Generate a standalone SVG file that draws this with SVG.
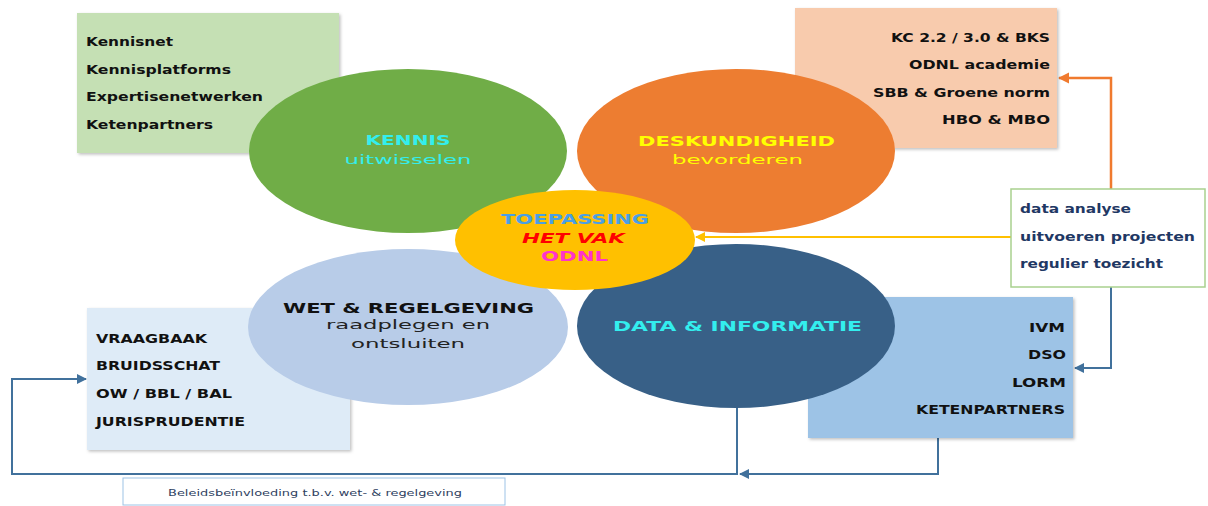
<svg xmlns="http://www.w3.org/2000/svg" width="1208" height="506" viewBox="0 0 1208 506">
<style>
  .bx { font-family: "DejaVu Sans", "Liberation Sans", sans-serif; font-weight: bold; font-size: 12px; fill: #111111; }
  .dx { font-family: "DejaVu Sans", "Liberation Sans", sans-serif; font-weight: bold; font-size: 12px; fill: #1F3864; }
  .tt { font-family: "DejaVu Sans", "Liberation Sans", sans-serif; font-size: 14.5px; text-anchor: middle; }
  .sm { font-size: 13px; }
  .b { font-weight: bold; }
  .cy { fill: #33EEEE; }
  .ye { fill: #FFFF00; }
  .lbl { font-family: "DejaVu Sans", "Liberation Sans", sans-serif; font-size: 9px; fill: #2F3F5F; }
  .ln { fill: none; stroke-width: 2; }
  .blue { stroke: #41719C; }
  .org { stroke: #F07A2E; stroke-width: 2.5; }
  .yel { stroke: #FFC000; }
</style>
<defs>
  <filter id="sh" x="-10%" y="-10%" width="120%" height="120%">
    <feDropShadow dx="1.5" dy="1.5" stdDeviation="1.5" flood-color="#000" flood-opacity="0.25"/>
  </filter>
  <marker id="aB" viewBox="0 0 10 10" refX="9" refY="5" markerWidth="5" markerHeight="5" orient="auto">
    <path d="M0,0 L10,5 L0,10 z" fill="#41719C"/>
  </marker>
  <marker id="aO" viewBox="0 0 10 10" refX="9" refY="5" markerWidth="4.5" markerHeight="4.5" orient="auto">
    <path d="M0,0 L10,5 L0,10 z" fill="#F07A2E"/>
  </marker>
  <marker id="aY" viewBox="0 0 10 10" refX="9" refY="5" markerWidth="5" markerHeight="5" orient="auto">
    <path d="M0,0 L10,5 L0,10 z" fill="#FFC000"/>
  </marker>
</defs>
<rect width="1208" height="506" fill="#FFFFFF"/>

<g id="connectors">
  <polyline class="ln org" points="1111,189 1111,78 1059,78" marker-end="url(#aO)"/>
  <polyline class="ln blue" points="1111,287 1111,368 1075,368" marker-end="url(#aB)"/>
  <polyline class="ln yel" points="1011,237 696,237" marker-end="url(#aY)"/>
  <polyline class="ln blue" points="737,405 737,474 12,474 12,379 86,379" marker-end="url(#aB)"/>
  <polyline class="ln blue" points="938,438 938,474 740,474" marker-end="url(#aB)"/>
</g>

<g id="kennis-box">
  <rect x="77" y="13" width="262" height="140" fill="#C5E0B4" filter="url(#sh)"/>
  <text class="bx" x="86" y="46" textLength="87" lengthAdjust="spacingAndGlyphs">Kennisnet</text>
  <text class="bx" x="86" y="73.5" textLength="145" lengthAdjust="spacingAndGlyphs">Kennisplatforms</text>
  <text class="bx" x="86" y="101" textLength="177" lengthAdjust="spacingAndGlyphs">Expertisenetwerken</text>
  <text class="bx" x="86" y="128.5" textLength="127" lengthAdjust="spacingAndGlyphs">Ketenpartners</text>
</g>

<g id="deskundigheid-box">
  <rect x="795" y="8" width="262" height="140" fill="#F8CBAD" filter="url(#sh)"/>
  <text class="bx" x="891" y="41.5" textLength="159" lengthAdjust="spacingAndGlyphs">KC 2.2 / 3.0 &amp; BKS</text>
  <text class="bx" x="909" y="69" textLength="141" lengthAdjust="spacingAndGlyphs">ODNL academie</text>
  <text class="bx" x="873" y="96.5" textLength="177" lengthAdjust="spacingAndGlyphs">SBB &amp; Groene norm</text>
  <text class="bx" x="942" y="124" textLength="108" lengthAdjust="spacingAndGlyphs">HBO &amp; MBO</text>
</g>

<g id="wet-box">
  <rect x="87" y="308" width="263" height="142" fill="#DEEBF7" filter="url(#sh)"/>
  <text class="bx" x="96" y="342.5" textLength="111" lengthAdjust="spacingAndGlyphs">VRAAGBAAK</text>
  <text class="bx" x="96" y="370" textLength="124" lengthAdjust="spacingAndGlyphs">BRUIDSSCHAT</text>
  <text class="bx" x="96" y="398" textLength="136" lengthAdjust="spacingAndGlyphs">OW / BBL / BAL</text>
  <text class="bx" x="96" y="425.5" textLength="149" lengthAdjust="spacingAndGlyphs">JURISPRUDENTIE</text>
</g>

<g id="data-box">
  <rect x="808" y="297" width="265" height="141" fill="#9DC3E6" filter="url(#sh)"/>
  <text class="bx" x="1029" y="331.5" textLength="36" lengthAdjust="spacingAndGlyphs">IVM</text>
  <text class="bx" x="1028" y="359" textLength="38" lengthAdjust="spacingAndGlyphs">DSO</text>
  <text class="bx" x="1012" y="386.5" textLength="54" lengthAdjust="spacingAndGlyphs">LORM</text>
  <text class="bx" x="916" y="414" textLength="149" lengthAdjust="spacingAndGlyphs">KETENPARTNERS</text>
</g>

<g id="activiteiten-box">
  <rect x="1011" y="189" width="194" height="98" fill="#FFFFFF" stroke="#A9D18E" stroke-width="1.5"/>
  <text class="dx" x="1020" y="213" textLength="111" lengthAdjust="spacingAndGlyphs">data analyse</text>
  <text class="dx" x="1020" y="240.5" textLength="175" lengthAdjust="spacingAndGlyphs">uitvoeren projecten</text>
  <text class="dx" x="1020" y="268" textLength="143" lengthAdjust="spacingAndGlyphs">regulier toezicht</text>
</g>

<g id="kennis">
  <ellipse cx="408" cy="151" rx="159" ry="82" fill="#70AD47"/>
  <text class="tt b cy" x="408" y="145" textLength="85" lengthAdjust="spacingAndGlyphs">KENNIS</text>
  <text class="tt sm cy" x="408" y="163.5" textLength="127" lengthAdjust="spacingAndGlyphs">uitwisselen</text>
</g>

<g id="deskundigheid">
  <ellipse cx="736" cy="151" rx="159" ry="82" fill="#ED7D31"/>
  <text class="tt b ye" x="736.5" y="146" textLength="197" lengthAdjust="spacingAndGlyphs">DESKUNDIGHEID</text>
  <text class="tt sm ye" x="737.5" y="164" textLength="131" lengthAdjust="spacingAndGlyphs">bevorderen</text>
</g>

<g id="wet">
  <ellipse cx="408" cy="327" rx="160" ry="78" fill="#B8CCE8"/>
  <text class="tt b" x="408.5" y="313" textLength="251" lengthAdjust="spacingAndGlyphs" fill="#111111">WET &amp; REGELGEVING</text>
  <text class="tt sm" x="408" y="329" textLength="164" lengthAdjust="spacingAndGlyphs" fill="#222222">raadplegen en</text>
  <text class="tt sm" x="408" y="348" textLength="114" lengthAdjust="spacingAndGlyphs" fill="#222222">ontsluiten</text>
</g>

<g id="data">
  <ellipse cx="736" cy="326" rx="159" ry="82" fill="#386087"/>
  <text class="tt b cy" x="737.5" y="331" textLength="249" lengthAdjust="spacingAndGlyphs">DATA &amp; INFORMATIE</text>
</g>

<g id="toepassing">
  <ellipse cx="575" cy="240" rx="120" ry="50" fill="#FFC000"/>
  <text class="tt b" x="575" y="224" textLength="148" lengthAdjust="spacingAndGlyphs" fill="#4A9FE5">TOEPASSING</text>
  <text class="tt b" x="573.5" y="243" textLength="103" lengthAdjust="spacingAndGlyphs" fill="#FF0000" font-style="italic">HET VAK</text>
  <text class="tt b" x="574.5" y="261" textLength="67" lengthAdjust="spacingAndGlyphs" fill="#FF33CC">ODNL</text>
</g>

<g id="beleid-label">
  <rect x="123" y="478" width="382" height="27" fill="#FFFFFF" stroke="#9DC3E6" stroke-width="1"/>
  <text class="lbl" x="168" y="496" textLength="294" lengthAdjust="spacingAndGlyphs">Beleidsbeïnvloeding t.b.v. wet- &amp; regelgeving</text>
</g>
</svg>
